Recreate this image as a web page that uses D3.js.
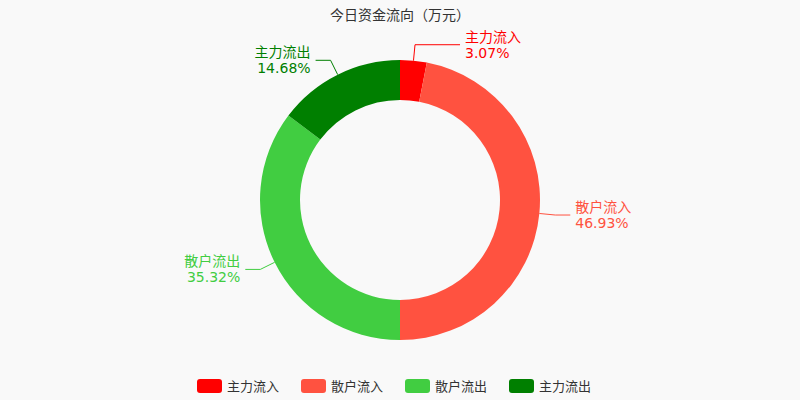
<!DOCTYPE html>
<html><head><meta charset="utf-8">
<script src="https://cdn.jsdelivr.net/npm/d3@7/dist/d3.min.js"></script>
<style>body{margin:0;background:#f9f9f9}svg{font-family:"Noto Sans CJK SC","DejaVu Sans",sans-serif}</style>
</head><body><svg width="800" height="400"></svg>
<script>
const categories=["主力流入","散户流入","散户流出","主力流出"];
const values=[3.07,46.93,35.32,14.68];
const colors=["#ff0000","#ff5240","#41cd41","#007f00"];
const svg=d3.select("svg");
svg.append("rect").attr("width",800).attr("height",400).attr("fill","#f9f9f9");
svg.append("text").attr("x",400).attr("y",20).attr("text-anchor","middle").attr("font-size",14).attr("fill","#333").text("今日资金流向（万元）");
const g=svg.append("g").attr("transform","translate(400,200)");
const pie=d3.pie().sort(null).value(d=>d)(values);
const arc=d3.arc().innerRadius(100).outerRadius(140);
g.selectAll("path").data(pie).join("path").attr("d",arc).attr("fill",(d,i)=>colors[i]);
pie.forEach((d,i)=>{
  const a=(d.startAngle+d.endAngle)/2;
  const p=r=>[r*Math.sin(a),-r*Math.cos(a)];
  const p1=p(140),p2=p(156);
  const right=Math.sin(a)>=0;
  const l2=i===0?45:15;
  const p3=[p2[0]+(right?l2:-l2),p2[1]];
  g.append("polyline").attr("points",[p1,p2,p3].map(q=>q.join(",")).join(" ")).attr("fill","none").attr("stroke",colors[i]).attr("stroke-width",1);
  const t=g.append("text").attr("text-anchor",right?"start":"end").attr("fill",colors[i]).attr("font-size",14);
  const x=p3[0]+(right?5:-5);
  t.append("tspan").attr("x",x).attr("y",p3[1]-3).text(categories[i]);
  t.append("tspan").attr("x",x).attr("y",p3[1]+13).attr("font-family","DejaVu Sans").text(values[i].toFixed(2)+"%");
});
const lg=svg.append("g");
const xs=[197,301,405,509];
categories.forEach((c,i)=>{
  lg.append("rect").attr("x",xs[i]).attr("y",379).attr("width",25).attr("height",14).attr("rx",3).attr("fill",colors[i]);
  lg.append("text").attr("x",xs[i]+30).attr("y",391).attr("font-size",13).attr("fill","#333").text(c);
});
</script></body></html>
